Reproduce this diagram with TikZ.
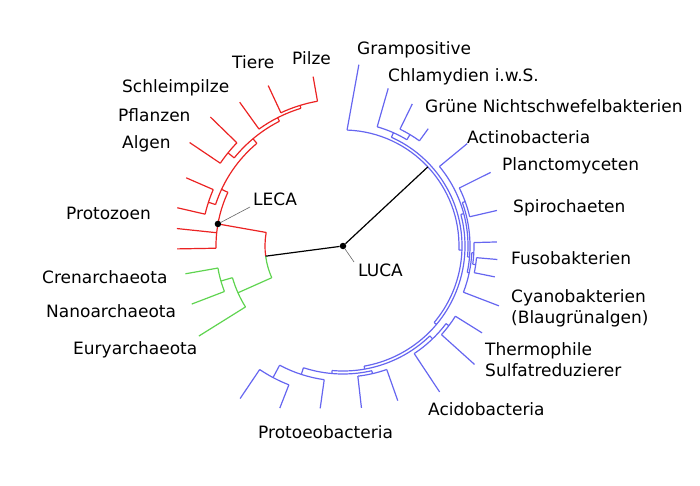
\documentclass[tikz,border=0pt]{standalone}
\usepackage{fontspec}
\setmainfont{DejaVu Sans}
\usetikzlibrary{positioning}
\definecolor{eukared}{RGB}{235,35,35}
\definecolor{archgreen}{RGB}{95,212,80}
\definecolor{bactblue}{RGB}{102,102,240}

\begin{document}
\begin{tikzpicture}[x=1pt, y=1pt,
    every node/.style={font=\fontsize{17}{21}\selectfont},
    taxon/.style={anchor=west, inner sep=0pt, align=left},
    branch/.style={line width=1.2pt},
    dot/.style={circle, fill=black, inner sep=0pt, minimum size=6.5pt},
    pointer/.style={draw=black!60, line width=0.6pt},
  ]
\useasboundingbox (0,0) rectangle (700,485);

\begin{scope}[shift={(343,239)}]
  \begin{scope}[branch, eukared]
    \foreach \r/\a/\b in {78/170/187.5, 147/100/115, 144/107/125.7, 148/135.8/146,
        140/117/141, 141.5/156.5/167, 134/130/162, 127/155/181}
      \draw (\a:\r) arc[start angle=\a, end angle=\b, radius=\r pt];
    \foreach \a/\ri/\ro in {170/78/127, 100/147/172, 115/147/177, 107/144/147,
        125.7/144/177, 135.8/148/185, 146/148/185, 141/140/148, 117/140/144,
        156.5/141.5/171, 167/141.5/170, 162/134/141.5, 130/134/140, 155/127/134,
        174/127/167, 181/127/166}
      \draw (\a:\ri) -- (\a:\ro);
  \end{scope}
  \begin{scope}[branch, archgreen]
    \foreach \r/\a/\b in {78/187.5/204, 115/196/212, 127/190/201}
      \draw (\a:\r) arc[start angle=\a, end angle=\b, radius=\r pt];
    \foreach \a/\ri/\ro in {204/78/115, 212/115/170, 196/115/127, 190/127/160, 201/127/162}
      \draw (\a:\ri) -- (\a:\ro);
  \end{scope}
  \begin{scope}[branch, bactblue]
    \foreach \r/\a/\b in {116/-2/88, 119/-40/66, 124/59/74, 130/54/64, 122/-80/15,
        125/-5/39.5, 127/-12/20, 130/13/26.5, 129/-21/-3, 131/-8/1.5, 134/-11.5/-5,
        125/-95/-46, 129/-56.5/-37, 132.5/-42/-32, 128/-108/-77, 131/-83.5/-70.5,
        135/-118/-98, 149/-124/-111.3}
      \draw (\a:\r) arc[start angle=\a, end angle=\b, radius=\r pt];
    \draw (88:116) -- (85:182);
    \foreach \a/\ri/\ro in {-2/116/119, 66/119/124, 74/124/164,
        59/124/130, 64/130/158, 54/130/145, -40/119/122, 15/122/125, 39.5/125/161,
        -5/125/127, 20/127/130, 26.5/130/165, 13/130/158, -12/127/129, -3/129/131,
        -21/129/167, 1.5/131/154, -8/131/134, -5/134/155, -11.5/134/155,
        -80/122/125, -46/125/129, -37/129/132.5, -32/132.5/164, -42/132.5/177,
        -56.5/129/175, -95/125/128, -77/128/131, -70.5/131/164, -83.5/131/163,
        -108/128/135, -98/135/164, -118/135/149, -111.3/149/174, -124/149/184}
      \draw (\a:\ri) -- (\a:\ro);
  \end{scope}

  \coordinate (archroot) at (187.5:78);
  \coordinate (bactroot) at (43:116);
  \node[dot] (luca) at (0,0) {};
  \node[dot] (leca) at (170:127) {};
  \draw[branch] (luca) -- (archroot);
  \draw[branch] (luca) -- (bactroot);
\end{scope}

\coordinate (lecatip) at (250,278);
\coordinate (lucatip) at (354,223);
\draw[pointer] (leca) -- (lecatip);
\draw[pointer] (luca) -- (lucatip);

\node[taxon] (lecalab) at (253,286) {LECA};
\node[taxon] (lucalab) at (358,215) {LUCA};

\node[taxon] (pilze) at (292,427) {Pilze};
\node[taxon] (tiere) at (232,423) {Tiere};
\node[taxon] (schleim) at (122,397) {Schleimpilze};
\node[taxon] (pflanzen) at (118,370) {Pflanzen};
\node[taxon] (algen) at (122,341) {Algen};
\node[taxon] (protozoen) at (66,272) {Protozoen};

\node[taxon] (cren) at (42,208) {Crenarchaeota};
\node[taxon] (nano) at (46,174) {Nanoarchaeota};
\node[taxon] (eury) at (73,135) {Euryarchaeota};

\node[taxon] (grampos) at (357,435) {Grampositive};
\node[taxon] (chlamyd) at (388,408) {Chlamydien i.w.S.};
\node[taxon] (gruene) at (425,379) {Grüne Nichtschwefelbakterien};
\node[taxon] (actino) at (467,348) {Actinobacteria};
\node[taxon] (plancto) at (502,319) {Planctomyceten};
\node[taxon] (spiro) at (513,277) {Spirochaeten};
\node[taxon] (fuso) at (511,227) {Fusobakterien};
\node[taxon] (cyano) at (511,176.5) {Cyanobakterien\\(Blaugrünalgen)};
\node[taxon] (thermo) at (485,125) {Thermophile\\Sulfatreduzierer};
\node[taxon] (acido) at (428,76) {Acidobacteria};
\node[taxon] (proteo) at (258,53) {Protoeobacteria};
\end{tikzpicture}
\end{document}
